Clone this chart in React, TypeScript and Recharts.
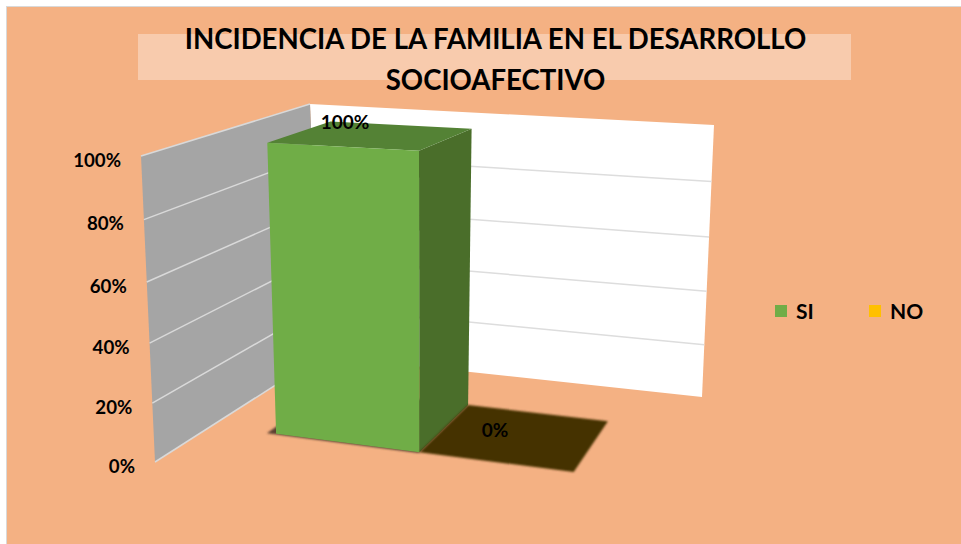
import { BarChart, Bar, XAxis, YAxis, Legend, LabelList } from 'recharts';

const categories = ['Incidencia'];
const siValues = [100];
const noValues = [0];
const tickValues = [0, 20, 40, 60, 80, 100];
const seriesNames = ['SI', 'NO'];

const data = categories.map((name, i) => ({ name, SI: siValues[i], NO: noValues[i] }));

const FONT = 'Lato, sans-serif';
const PLOT = { left: 155, top: 156, right: 638, bottom: 462 };
const BAR_FRONT = 0.29;
const BAR_BACK = 0.694;

type Pt = [number, number];

// square -> quad, used for the floor and ceiling of the fake 3d box
function homography(p0: Pt, p1: Pt, p2: Pt, p3: Pt) {
    const dx1 = p1[0] - p2[0], dy1 = p1[1] - p2[1];
    const dx2 = p3[0] - p2[0], dy2 = p3[1] - p2[1];
    const sx = p0[0] - p1[0] + p2[0] - p3[0];
    const sy = p0[1] - p1[1] + p2[1] - p3[1];
    const den = dx1 * dy2 - dx2 * dy1;
    const g = (sx * dy2 - dx2 * sy) / den;
    const h = (dx1 * sy - sx * dy1) / den;
    const a = p1[0] - p0[0] + g * p1[0], b = p3[0] - p0[0] + h * p3[0];
    const d = p1[1] - p0[1] + g * p1[1], e = p3[1] - p0[1] + h * p3[1];
    return (u: number, w: number): Pt => {
        const q = g * u + h * w + 1;
        return [(a * u + b * w + p0[0]) / q, (d * u + e * w + p0[1]) / q];
    };
}

const floor = homography([155, 462], [638, 530], [702, 397], [321, 356]);
const ceiling = homography([141, 156], [624, 182], [714, 125], [310, 104]);

function project(u: number, v: number, w: number): Pt {
    const f = floor(u, w);
    const c = ceiling(u, w);
    const t = v / (1 + 0.05 * (1 - v));
    return [f[0] + (c[0] - f[0]) * t, f[1] + (c[1] - f[1]) * t];
}

const toU = (x: number) => (x - PLOT.left) / (PLOT.right - PLOT.left);
const toV = (y: number) => (PLOT.bottom - y) / (PLOT.bottom - PLOT.top);
const poly = (pts: Pt[]) => pts.map((p) => p[0].toFixed(1) + ',' + p[1].toFixed(1)).join(' ');

const shades: any = {
    '#70AD47': { top: '#548235', side: '#4A6E2A', floor: '#5A4030' },
    '#FFC000': { top: '#443200', side: '#443200', floor: '#443200' },
};

function Bar3D(props: any) {
    const { x, y, width, height, fill } = props;
    const u0 = toU(x);
    const u1 = toU(x + width);
    const v = toV(y);
    const s = shades[fill];
    if (height < 1) {
        return (
            <polygon
                points={poly([project(u0, 0, BAR_FRONT), project(u1, 0, BAR_FRONT), project(u1, 0, BAR_BACK), project(u0, 0, BAR_BACK)])}
                fill={s.top}
                filter="url(#soft)"
            />
        );
    }
    return (
        <g>
            <polygon
                points={poly([project(u0 - 0.02, 0, BAR_FRONT - 0.005), project(u1, 0, BAR_FRONT - 0.005), project(u1, 0, BAR_BACK), project(u0 - 0.02, 0, BAR_BACK)])}
                fill={s.floor}
                filter="url(#soft)"
            />
            <polygon points={poly([project(u1, 0, BAR_FRONT), project(u1, 0, BAR_BACK), project(u1, v, BAR_BACK), project(u1, v, BAR_FRONT)])} fill={s.side} />
            <polygon points={poly([project(u0, v, BAR_FRONT), project(u1, v, BAR_FRONT), project(u1, v, BAR_BACK), project(u0, v, BAR_BACK)])} fill={s.top} />
            <polygon points={poly([project(u0, 0, BAR_FRONT), project(u1, 0, BAR_FRONT), project(u1, v, BAR_FRONT), project(u0, v, BAR_FRONT)])} fill={fill} />
        </g>
    );
}

function ValueLabel(props: any) {
    const { x, y, width, value } = props;
    const u = toU(x + width / 2);
    const v = toV(y);
    const p = project(u, v, (BAR_FRONT + BAR_BACK) / 2);
    return (
        <text x={p[0] - 22 - 6 * v} y={p[1] - 7 - 7 * v} textAnchor="middle" dominantBaseline="central" fontFamily={FONT} fontWeight={700} fontSize={19} fill="#000">
            {value + '%'}
        </text>
    );
}

function AxisTick(props: any) {
    const { y, payload } = props;
    const p = project(0, toV(y), 0);
    return (
        <text x={p[0] - 20} y={p[1] + 3.5} textAnchor="end" dominantBaseline="central" fontFamily={FONT} fontWeight={700} fontSize={18.7} fill="#000">
            {payload.value + '%'}
        </text>
    );
}

// walls of the box, gridlines come from the same ticks as the axis
function Walls() {
    const vals = tickValues.map((t) => t / 100);
    return (
        <g>
            <polygon points={poly([project(0, 0, 1), project(1, 0, 1), project(1, 1, 1), project(0, 1, 1)])} fill="#FFFFFF" />
            <polygon points={poly([project(0, 0, 0), project(0, 0, 1), project(0, 1, 1), project(0, 1, 0)])} fill="#A5A5A5" />
            {vals.map((v) => {
                const a = project(0, v, 0);
                const b = project(0, v, 1);
                const c = project(1, v, 1);
                return (
                    <g key={v}>
                        <line x1={a[0]} y1={a[1]} x2={b[0]} y2={b[1]} stroke="#D9D9D9" strokeWidth={1.5} />
                        {v > 0 && v < 1 && <line x1={b[0]} y1={b[1]} x2={c[0]} y2={c[1]} stroke="#DDDDDD" strokeWidth={1.5} />}
                    </g>
                );
            })}
        </g>
    );
}

function LegendBox(props: any) {
    const items = props.payload || [];
    return (
        <div style={{ display: 'flex', fontFamily: FONT, fontWeight: 700, fontSize: 21, color: '#000', lineHeight: '24px' }}>
            {seriesNames.map((name) => {
                const item = items.find((it: any) => it.value === name);
                return (
                    <div key={name} style={{ display: 'flex', alignItems: 'center', width: 94 }}>
                        <span style={{ width: 12, height: 12, background: item ? item.color : undefined, marginRight: 9 }} />
                        <span>{name}</span>
                    </div>
                );
            })}
        </div>
    );
}

export default function App() {
    return (
        <div style={{ position: 'absolute', left: 0, top: 0, width: 961, height: 544, background: '#fff', overflow: 'hidden' }}>
            <div style={{ position: 'absolute', left: 6, top: 6, width: 960, height: 540, boxSizing: 'border-box', background: '#F4B183', border: '1.5px solid #D9D9D9' }} />
            <div style={{ position: 'absolute', left: 0, top: 0 }}>
                <BarChart
                    width={961}
                    height={544}
                    data={data}
                    barCategoryGap="16%"
                    barGap={0}
                    margin={{ left: 95, top: PLOT.top, right: 961 - PLOT.right, bottom: 544 - PLOT.bottom }}
                >
                    <defs>
                        <filter id="soft" x="-10%" y="-10%" width="120%" height="120%">
                            <feGaussianBlur stdDeviation="1.2" />
                        </filter>
                    </defs>
                    <rect x={138} y={34} width={713} height={46} fill="#F8CBAD" />
                    <text x={495.5} y={38} textAnchor="middle" dominantBaseline="central" fontFamily={FONT} fontWeight={700} fontSize={27.6} fill="#000">
                        INCIDENCIA DE LA FAMILIA EN EL DESARROLLO
                    </text>
                    <text x={495.5} y={79} textAnchor="middle" dominantBaseline="central" fontFamily={FONT} fontWeight={700} fontSize={27.6} fill="#000">
                        SOCIOAFECTIVO
                    </text>
                    <Walls />
                    <XAxis dataKey="name" hide padding={{ left: 0, right: 10 }} />
                    <YAxis width={60} domain={[0, 100]} ticks={tickValues} axisLine={false} tickLine={false} tick={AxisTick} interval={0} />
                    <Legend
                        content={LegendBox}
                        layout="horizontal"
                        verticalAlign="middle"
                        align="center"
                        wrapperStyle={{ position: 'absolute', left: 775, top: 299, width: 190 }}
                    />
                    <Bar dataKey={seriesNames[0]} name={seriesNames[0]} fill="#70AD47" shape={Bar3D} isAnimationActive={false}>
                        <LabelList dataKey={seriesNames[0]} content={ValueLabel} />
                    </Bar>
                    <Bar dataKey={seriesNames[1]} name={seriesNames[1]} fill="#FFC000" shape={Bar3D} isAnimationActive={false}>
                        <LabelList dataKey={seriesNames[1]} content={ValueLabel} />
                    </Bar>
                </BarChart>
            </div>
        </div>
    );
}
